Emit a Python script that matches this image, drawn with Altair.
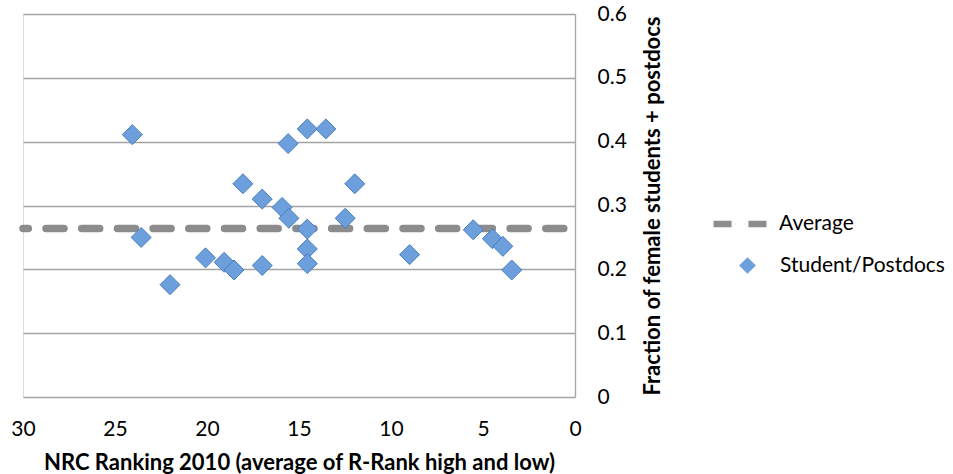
import altair as alt
import pandas as pd

# NRC ranking (x) and fraction of female students + postdocs (y)
rank = [24.06, 23.58, 22.01, 20.08, 19.07, 18.53, 18.05, 17.0, 17.0, 15.92,
        15.55, 15.59, 14.55, 13.54, 14.55, 14.55, 14.55, 12.49, 11.97, 8.99,
        5.53, 4.49, 3.92, 3.44]
frac = [0.411, 0.250, 0.176, 0.218, 0.211, 0.199, 0.334, 0.310, 0.206, 0.297,
        0.280, 0.397, 0.420, 0.420, 0.263, 0.232, 0.209, 0.280, 0.334, 0.223,
        0.262, 0.248, 0.236, 0.199]
average = [0.264]
series_pts = "Student/Postdocs"
series_avg = "Average"
x_ticks = [0, 5, 10, 15, 20, 25, 30]
y_ticks = [0, 0.1, 0.2, 0.3, 0.4, 0.5, 0.6]

FONT = "Lato"
LBL = 21
TTL = 22

pts = pd.DataFrame({"rank": rank, "frac": frac, "series": [series_pts] * len(rank)})
avg = pd.DataFrame({"avg": average, "series": [series_avg], "x1": [30], "x2": [0]})

xscale = alt.Scale(domain=[0, 30], reverse=True, nice=False)
yscale = alt.Scale(domain=[0, 0.6], nice=False)

xaxis = alt.Axis(values=x_ticks, grid=False, domain=False, ticks=False,
                 labelFlush=False, labelPadding=21, labelFont=FONT, labelFontSize=LBL,
                 labelColor="#000", title="NRC Ranking 2010 (average of R-Rank high and low)",
                 titleFont=FONT, titleFontSize=TTL, titleFontWeight="bold",
                 titleColor="#000", titlePadding=13)
yaxis = alt.Axis(orient="right", values=y_ticks, format=".1~f", grid=True,
                 gridColor="#a3a3a3", gridWidth=1.4, domain=True, domainColor="#a8a8a8",
                 domainWidth=1.4, ticks=False, labelPadding=22, labelFont=FONT,
                 labelFontSize=LBL, labelColor="#000",
                 title="Fraction of female students + postdocs", titleAngle=270,
                 titleBaseline="top",
                 titleFont=FONT, titleFontSize=TTL, titleFontWeight="bold",
                 titleColor="#000", titlePadding=16)

# two-dash legend glyph (unit box -1..1)
DASH_GLYPH = "M-1,0L-0.115,0M0.147,0L1,0"

line = alt.Chart(avg).mark_rule(strokeWidth=7.5, strokeCap="round", color="#8c8c8c",
                                strokeDashOffset=12.7).encode(
    x=alt.X("x1:Q", scale=xscale, axis=xaxis),
    x2="x2:Q",
    y=alt.Y("avg:Q", scale=yscale, axis=yaxis),
    strokeDash=alt.StrokeDash(
        "series:N",
        scale=alt.Scale(domain=[series_avg], range=[[18, 17.7]]),
        legend=alt.Legend(title=None, orient="none", legendX=687, legendY=176,
                          padding=0, symbolType=DASH_GLYPH, symbolSize=3721,
                          symbolStrokeWidth=6.7, symbolStrokeColor="#8c8c8c",
                          symbolDash=[1000, 0], labelFont=FONT, labelFontSize=LBL,
                          labelColor="#000", labelOffset=1)),
)

points = alt.Chart(pts).mark_point(filled=True, size=400, fill="#6d9fdc",
                                   stroke="#4a7ebb", strokeWidth=1, opacity=1).encode(
    x=alt.X("rank:Q", scale=xscale),
    y=alt.Y("frac:Q", scale=yscale),
    shape=alt.Shape(
        "series:N",
        scale=alt.Scale(domain=[series_pts], range=["diamond"]),
        legend=alt.Legend(title=None, orient="none", legendX=714, legendY=241,
                          padding=0, symbolSize=280, symbolFillColor="#6d9fdc",
                          symbolStrokeColor="#4a7ebb", symbolStrokeWidth=1,
                          labelFont=FONT, labelFontSize=LBL, labelColor="#000",
                          labelOffset=22, labelLimit=400)),
)

chart = alt.layer(line, points).properties(
    width=552, height=383,
    autosize=alt.AutoSizeParams(type="none"),
    padding={"left": 23, "top": 14, "right": 378, "bottom": 77},
).configure_view(stroke=None).configure(background="white")

chart.save("out.html", embed_options={"renderer": "svg", "actions": False})
